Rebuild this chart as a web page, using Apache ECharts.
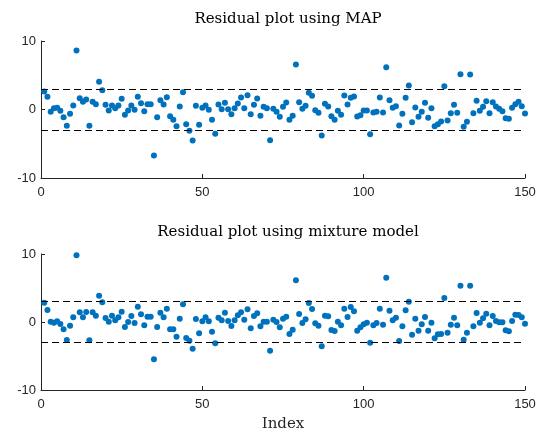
<!DOCTYPE html>
<html>
<head>
<meta charset="utf-8">
<script src="https://cdn.jsdelivr.net/npm/echarts@6/dist/echarts.min.js"></script>
<style>
  html, body { margin: 0; padding: 0; background: #fff; }
  #main { width: 539px; height: 435px; }
</style>
</head>
<body>
<div id="main"></div>
<script>
// residuals, index 1..150
var mapResid = [
  2.63, 1.85, -0.34, 0.19, 0.24, -0.2, -1.12, -2.38, -0.63, 0.58,
  8.6, 1.65, 1.12, 1.46, -2.38, 1.12, 0.78, 4.04, 2.82, 0.68,
  -0.15, 0.58, 0.19, 0.58, 1.56, -0.78, -0.15, 0.58, -0.05, 1.85,
  0.92, -0.24, 0.78, 0.78, -6.72, -1.12, 1.36, 0.73, 1.8, -0.97,
  -1.5, -2.43, 0.44, 2.53, -2.14, -3.11, -4.52, 0.54, -2.24, 0.24,
  0.58, -0.05, -1.5, -3.55, 0.73, 0.05, 0.97, 0.05, -0.68, 0.19,
  0.88, 1.75, 0.19, 2.09, -0.68, 0.68, 1.61, -0.92, 0.39, 0.19,
  -4.48, 0.1, -0.34, -1.07, 0.39, 1.02, -1.5, -0.92, 6.57, 1.07,
  0.1, 0.54, 2.43, 2.0, -0.1, -0.49, -3.8, 0.83, 0.44, -0.97,
  -1.5, -0.2, -0.78, 2.04, 0.73, 1.7, 1.9, -1.02, -0.83, -0.15,
  -0.15, -3.6, -0.44, -0.34, 1.75, -0.44, 6.18, 1.36, 0.24, 0.49,
  -2.34, -0.63, 1.7, 3.5, -1.85, 0.29, -1.07, -0.34, 0.97, -1.22,
  0.19, -2.43, -2.14, -1.75, 3.4, -1.6, -0.54, 0.68, -0.49, 5.16,
  -2.53, -1.8, 5.11, -0.54, 1.26, -0.2, 0.39, 1.22, -0.54, 1.07,
  0.44, 0.1, -0.24, -1.27, -1.36, 0.24, 0.78, 1.12, 0.49, -0.58
];
var mixResid = [
  2.84, 1.76, 0.05, -0.1, 0.1, -0.29, -1.08, -2.65, -0.54, 0.69,
  9.8, 1.42, 0.69, 1.47, -2.7, 1.42, 0.93, 3.87, 2.89, 0.59,
  0.05, 0.93, 0.25, 0.69, 1.52, -0.74, 0.0, 0.88, -0.15, 2.25,
  1.13, -0.49, 0.78, 0.78, -5.49, -0.74, 1.37, 0.69, 1.96, -1.08,
  -1.08, -2.16, 0.49, 2.6, -2.35, -2.75, -3.92, 0.44, -1.67, 0.1,
  0.69, 0.1, -1.42, -3.14, 0.64, 0.25, 1.37, 0.15, -0.59, 0.25,
  0.98, 1.42, 0.34, 1.86, -0.93, 0.88, 1.27, -0.64, 0.05, 0.05,
  -4.22, 0.34, 0.0, -0.78, 0.49, 0.78, -1.76, -1.13, 6.13, 1.18,
  -0.15, 0.39, 2.79, 1.91, -0.2, -0.54, -3.58, 0.93, 0.83, -1.18,
  -1.32, 0.05, -0.49, 1.96, 0.74, 2.2, 1.57, -1.27, -0.78, -0.34,
  -0.1, -3.04, -0.49, -0.15, 1.96, -0.39, 6.52, 1.67, 0.25, 0.64,
  -2.79, -0.64, 1.72, 2.99, -1.86, 0.49, -1.27, -0.34, 0.74, -1.27,
  -0.1, -2.4, -1.81, -1.76, 3.53, -1.57, -0.39, 0.64, -0.49, 5.34,
  -2.6, -1.57, 5.34, -0.64, 1.32, -0.1, 0.54, 1.23, -0.49, 0.88,
  0.15, -0.05, -0.05, -1.23, -1.37, 0.15, 1.08, 1.03, 0.69, -0.25
];
var thresholds = [3, -3];
var xTicks = [0, 50, 100, 150];
var yTicks = [-10, 0, 10];
var titles = ['Residual plot using MAP', 'Residual plot using mixture model'];

var myChart = echarts.init(document.getElementById('main'));

var serifFont = 'DejaVu Serif';
var sansFont = 'Liberation Sans';
var axisColor = '#262626';

function toPoints(arr) {
    return arr.map(function (v, i) { return [i + 1, v]; });
}

function makeX(gridIndex, withName) {
    return {
        type: 'value',
        gridIndex: gridIndex,
        min: xTicks[0],
        max: xTicks[xTicks.length - 1],
        interval: 50,
        name: withName ? 'Index' : '',
        nameLocation: 'middle',
        nameGap: 27,
        nameTextStyle: { fontFamily: serifFont, fontSize: 15, color: axisColor },
        axisLine: { onZero: false, lineStyle: { color: axisColor, width: 1 } },
        axisTick: { inside: true, length: 4, lineStyle: { color: axisColor } },
        axisLabel: { margin: 8, fontFamily: sansFont, fontSize: 13, color: axisColor },
        splitLine: { show: false }
    };
}

function makeY(gridIndex) {
    return {
        type: 'value',
        gridIndex: gridIndex,
        min: yTicks[0],
        max: yTicks[yTicks.length - 1],
        interval: 10,
        axisLine: { show: true, onZero: false, lineStyle: { color: axisColor, width: 1 } },
        axisTick: { show: true, inside: true, length: 4, lineStyle: { color: axisColor } },
        axisLabel: { margin: 5, fontFamily: sansFont, fontSize: 13, color: axisColor },
        splitLine: { show: false }
    };
}

function makeSeries(idx, arr) {
    return {
        type: 'scatter',
        xAxisIndex: idx,
        yAxisIndex: idx,
        symbolSize: 6,
        itemStyle: { color: '#0072BD', opacity: 1 },
        data: toPoints(arr),
        markLine: {
            silent: true,
            symbol: ['none', 'none'],
            label: { show: false },
            lineStyle: { color: '#000', type: [7, 4], width: 1 },
            data: thresholds.map(function (t) { return { yAxis: t }; })
        }
    };
}

var option = {
    animation: false,
    backgroundColor: '#fff',
    title: [{
        text: titles[0],
        left: 283,
        top: 7,
        textAlign: 'center',
        textStyle: { fontFamily: serifFont, fontSize: 15, fontWeight: 'normal', color: '#000' }
    }, {
        text: titles[1],
        left: 283,
        top: 220,
        textAlign: 'center',
        textStyle: { fontFamily: serifFont, fontSize: 15, fontWeight: 'normal', color: '#000' }
    }],
    grid: [
        { left: 41, top: 41, width: 484, height: 137 },
        { left: 41, top: 254, width: 484, height: 136 }
    ],
    xAxis: [makeX(0, false), makeX(1, true)],
    yAxis: [makeY(0), makeY(1)],
    series: [makeSeries(0, mapResid), makeSeries(1, mixResid)]
};

myChart.setOption(option);
</script>
</body>
</html>
